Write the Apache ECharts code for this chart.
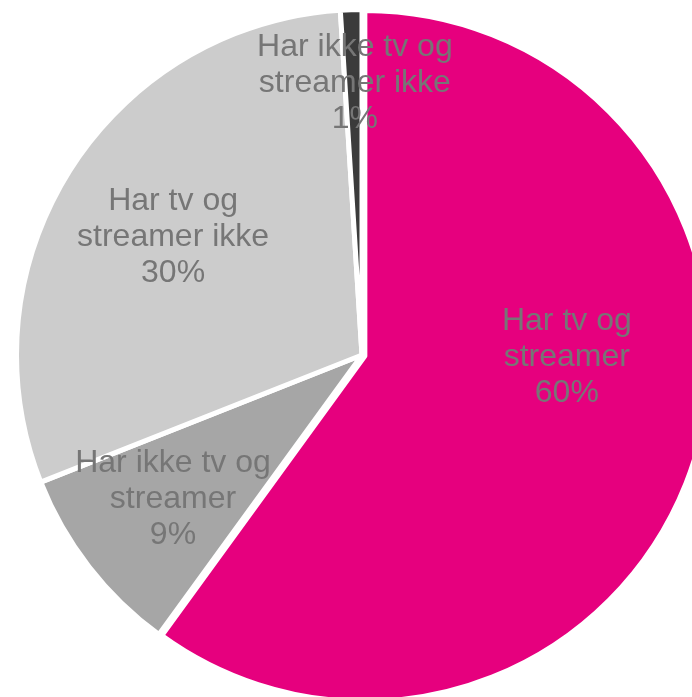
<!DOCTYPE html>
<html>
<head>
<meta charset="utf-8">
<script src="https://cdn.jsdelivr.net/npm/echarts@6/dist/echarts.min.js"></script>
<style>
  html, body { margin: 0; padding: 0; background: #ffffff; }
  #chart { width: 692px; height: 697px; }
</style>
</head>
<body>
<div id="chart"></div>
<script>
// Category names (line-broken as shown in the slices) and their shares in percent
const categories = [
  'Har tv og\nstreamer',
  'Har ikke tv og\nstreamer',
  'Har tv og\nstreamer ikke',
  'Har ikke tv og\nstreamer ikke'
];
const shares = [60, 9, 30, 1];
const sliceColors = ['#E6007E', '#A6A6A6', '#CCCCCC', '#3B3B3B'];

// Pie geometry; the first slice is pulled out a little along its bisector
const CX = 362, CY = 355, R = 345.5;
const BORDER = 5;
const PULL = 3;
const EXPLODED = 0;

// Where each label sits: angle clockwise from 12 o'clock and distance from the slice's centre
const labelSpots = [
  { angle: 90.3, dist: 202 },
  { angle: 232.7, dist: 237.6 },
  { angle: 302.0, dist: 222.8 },
  { angle: 358.5, dist: 272 }
];

// Bisector angle of the exploded slice, from the shares
const total = shares.reduce((a, b) => a + b, 0);
const before = shares.slice(0, EXPLODED).reduce((a, b) => a + b, 0);
const midA = (before + shares[EXPLODED] / 2) / total * 2 * Math.PI;
const centers = [
  [CX, CY],
  [CX + PULL * Math.sin(midA), CY - PULL * Math.cos(midA)]
];

function makeSeries(layer) {
  const c = centers[layer];
  return {
    type: 'pie',
    center: c,
    radius: [0, R],
    startAngle: 90,
    clockwise: true,
    silent: true,
    emphasis: { disabled: true },
    label: {
      show: true,
      position: 'inside',
      formatter: '{b}\n{c}%',
      color: '#767676',
      fontFamily: 'Liberation Sans, Arial, sans-serif',
      fontSize: 32,
      lineHeight: 36,
      align: 'center'
    },
    labelLine: { show: false },
    labelLayout: function (p) {
      const s = labelSpots[p.dataIndex];
      const a = s.angle * Math.PI / 180;
      return {
        x: c[0] + s.dist * Math.sin(a),
        y: c[1] - s.dist * Math.cos(a),
        align: 'center',
        verticalAlign: 'middle'
      };
    },
    data: categories.map((name, i) => {
      // layer 0 draws the slices in place, layer 1 the pulled-out slice
      const mine = layer === 0 ? i !== EXPLODED : i === EXPLODED;
      return {
        name: name,
        value: shares[i],
        itemStyle: mine
          ? { color: sliceColors[i], borderColor: '#ffffff', borderWidth: BORDER }
          : { color: 'rgba(0,0,0,0)', borderWidth: 0 },
        label: { show: mine }
      };
    })
  };
}

const chart = echarts.init(document.getElementById('chart'), null, { renderer: 'canvas' });

chart.setOption({
  animation: false,
  backgroundColor: '#ffffff',
  series: [makeSeries(0), makeSeries(1)]
});
</script>
</body>
</html>
